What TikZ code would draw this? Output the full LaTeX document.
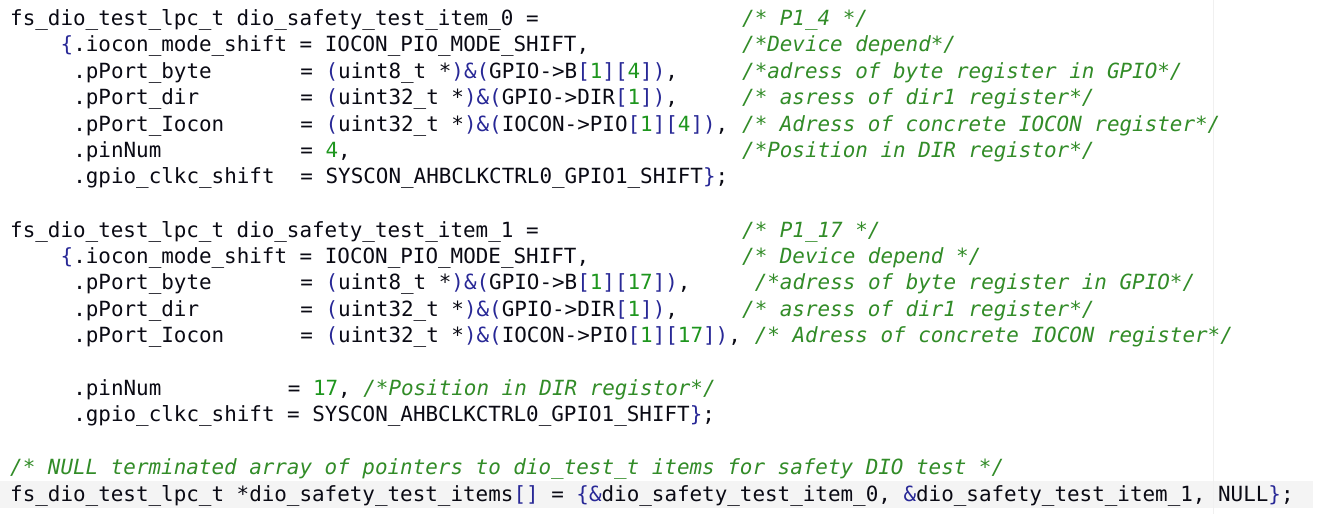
\documentclass[tikz,border=0pt]{standalone}
\usepackage{fontspec}
\setmonofont{DejaVu Sans Mono}
\definecolor{cb}{RGB}{40,40,150}
\definecolor{cn}{RGB}{30,150,30}
\definecolor{cc}{RGB}{50,140,40}
\definecolor{ct}{RGB}{10,10,20}
\definecolor{band}{RGB}{244,244,244}
\newcommand\Bb[1]{{\color{cb}#1}}
\newcommand\Nn[1]{{\color{cn}#1}}
\newcommand\Cc[1]{{\color{cc}\itshape #1}}
\newcommand\cl[3]{\node[code] at ({10+#1*12.62},{#2+7}) {#3};}
\begin{document}
\begin{tikzpicture}[x=1pt,y=-1pt,
  code/.style={anchor=base west,inner sep=0pt,font=\ttfamily\fontsize{20.9}{24}\selectfont,text=ct}]
\fill[white] (0,0) rectangle (1317,514);
\useasboundingbox (0,0) rectangle (1317,514);
\fill[band] (0,481) rectangle (1313,508);
\draw[black!6] (1213,0) -- (1213,514);
% block 1
\cl{0}{18}{fs\_dio\_test\_lpc\_t dio\_safety\_test\_item\_0 =}
\cl{58}{18}{\Cc{/* P1\_4 */}}
\cl{4}{44}{\Bb{\{}.iocon\_mode\_shift = IOCON\_PIO\_MODE\_SHIFT,}
\cl{58}{44}{\Cc{/*Device depend*/}}
\cl{5}{71}{.pPort\_byte}
\cl{23}{71}{= \Bb{(}uint8\_t *\Bb{)\&(}GPIO->B\Bb{[}\Nn{1}\Bb{][}\Nn{4}\Bb{])},}
\cl{58}{71}{\Cc{/*adress of byte register in GPIO*/}}
\cl{5}{97}{.pPort\_dir}
\cl{23}{97}{= \Bb{(}uint32\_t *\Bb{)\&(}GPIO->DIR\Bb{[}\Nn{1}\Bb{])},}
\cl{58}{97}{\Cc{/* asress of dir1 register*/}}
\cl{5}{124}{.pPort\_Iocon}
\cl{23}{124}{= \Bb{(}uint32\_t *\Bb{)\&(}IOCON->PIO\Bb{[}\Nn{1}\Bb{][}\Nn{4}\Bb{])},}
\cl{58}{124}{\Cc{/* Adress of concrete IOCON register*/}}
\cl{5}{150}{.pinNum}
\cl{23}{150}{= \Nn{4},}
\cl{58}{150}{\Cc{/*Position in DIR registor*/}}
\cl{5}{176}{.gpio\_clkc\_shift}
\cl{23}{176}{= SYSCON\_AHBCLKCTRL0\_GPIO1\_SHIFT\Bb{\}};}
% block 2
\cl{0}{230}{fs\_dio\_test\_lpc\_t dio\_safety\_test\_item\_1 =}
\cl{58}{230}{\Cc{/* P1\_17 */}}
\cl{4}{256}{\Bb{\{}.iocon\_mode\_shift = IOCON\_PIO\_MODE\_SHIFT,}
\cl{58}{256}{\Cc{/* Device depend */}}
\cl{5}{282}{.pPort\_byte}
\cl{23}{282}{= \Bb{(}uint8\_t *\Bb{)\&(}GPIO->B\Bb{[}\Nn{1}\Bb{][}\Nn{17}\Bb{])},}
\cl{59}{282}{\Cc{/*adress of byte register in GPIO*/}}
\cl{5}{309}{.pPort\_dir}
\cl{23}{309}{= \Bb{(}uint32\_t *\Bb{)\&(}GPIO->DIR\Bb{[}\Nn{1}\Bb{])},}
\cl{58}{309}{\Cc{/* asress of dir1 register*/}}
\cl{5}{335}{.pPort\_Iocon}
\cl{23}{335}{= \Bb{(}uint32\_t *\Bb{)\&(}IOCON->PIO\Bb{[}\Nn{1}\Bb{][}\Nn{17}\Bb{])},}
\cl{59}{335}{\Cc{/* Adress of concrete IOCON register*/}}
\cl{5}{388}{.pinNum}
\cl{22}{388}{= \Nn{17}, \Cc{/*Position in DIR registor*/}}
\cl{5}{414}{.gpio\_clkc\_shift = SYSCON\_AHBCLKCTRL0\_GPIO1\_SHIFT\Bb{\}};}
% array
\cl{0}{467}{\Cc{/* NULL terminated array of pointers to dio\_test\_t items for safety DIO test */}}
\cl{0}{494}{fs\_dio\_test\_lpc\_t *dio\_safety\_test\_items\Bb{[]} = \Bb{\{\&}dio\_safety\_test\_item\_0, \Bb{\&}dio\_safety\_test\_item\_1, NULL\Bb{\}};}
\end{tikzpicture}
\end{document}
